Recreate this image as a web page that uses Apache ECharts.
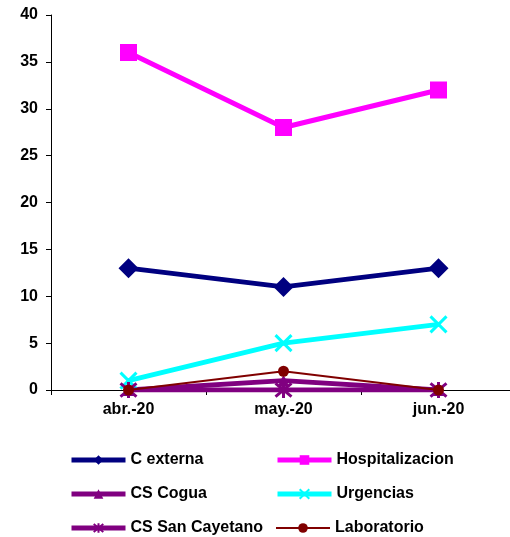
<!DOCTYPE html>
<html>
<head>
<meta charset="utf-8">
<script src="https://cdn.jsdelivr.net/npm/echarts@6/dist/echarts.min.js"></script>
<style>
html,body{margin:0;padding:0;background:#fff;overflow:hidden;}
#chart{width:516px;height:537px;}
</style>
</head>
<body>
<div id="chart"></div>
<script>
// Monthly counts per service
const months = ['abr.-20', 'may.-20', 'jun.-20'];
const cExterna = [13, 11, 13];
const hospitalizacion = [36, 28, 32];
const csCogua = [0, 1, 0];
const urgencias = [1, 5, 7];
const csSanCayetano = [0, 0, 0];
const laboratorio = [0, 2, 0];
const yTicks = { min: 0, max: 40, interval: 5 };

const FONT = '"Liberation Sans", Arial, sans-serif';
const crossPath = 'path://M0,0L10,10M10,0L0,10';
const starPath = 'path://M0,0L10,10M10,0L0,10M5,-1L5,11';

function line(name, data, color, width, symbol, size, strokeOnly, z) {
  return {
    name, type: 'line', data, z,
    symbol, symbolSize: size,
    lineStyle: { color, width },
    itemStyle: strokeOnly
      ? { color: 'rgba(0,0,0,0)', borderColor: color, borderWidth: 3 }
      : { color, borderWidth: 0 },
    emphasis: { disabled: true },
    animation: false
  };
}

// one legend entry per slot, laid out in two columns of three rows
const legendSlots = [
  ['C externa', 64, 447, 5], ['Hospitalizacion', 270, 447, 5],
  ['CS Cogua', 64, 481, 5], ['Urgencias', 270, 481, 5],
  ['CS San Cayetano', 64, 515, 5], ['Laboratorio', 270, 515, 2]
];
const legends = legendSlots.map(([name, left, top, w]) => ({
  data: [name], left, top,
  itemWidth: 54, itemHeight: 12, itemGap: 4,
  lineStyle: { width: w },
  textStyle: { fontFamily: FONT, fontWeight: 'bold', fontSize: 16, color: '#000' },
  selectedMode: false
}));

const chart = echarts.init(document.getElementById('chart'));
chart.setOption({
  animation: false,
  grid: { left: 51, right: 0, top: 15, bottom: 147, containLabel: false },
  legend: legends,
  xAxis: {
    type: 'category', data: months, boundaryGap: true,
    axisLine: { lineStyle: { color: '#000', width: 1 } },
    axisTick: { show: true, length: 5, lineStyle: { color: '#000' } },
    axisLabel: { fontFamily: FONT, fontWeight: 'bold', fontSize: 16, color: '#000', margin: 12 }
  },
  yAxis: {
    type: 'value', min: yTicks.min, max: yTicks.max, interval: yTicks.interval,
    splitLine: { show: false },
    axisLine: { show: true, lineStyle: { color: '#000', width: 1 } },
    axisTick: { show: true, length: 5, lineStyle: { color: '#000' } },
    axisLabel: { fontFamily: FONT, fontWeight: 'bold', fontSize: 16, color: '#000', margin: 13 }
  },
  series: [
    line('C externa', cExterna, '#000080', 5, 'diamond', 20, false, 2),
    line('Hospitalizacion', hospitalizacion, '#FF00FF', 5, 'rect', 17, false, 2),
    line('CS Cogua', csCogua, '#800080', 5, 'triangle', 12, false, 3),
    line('Urgencias', urgencias, '#00FFFF', 5, crossPath, 16, true, 3),
    line('CS San Cayetano', csSanCayetano, '#800080', 5, starPath, 16, true, 4),
    line('Laboratorio', laboratorio, '#800000', 2, 'circle', 11, false, 5)
  ]
});
</script>
</body>
</html>
